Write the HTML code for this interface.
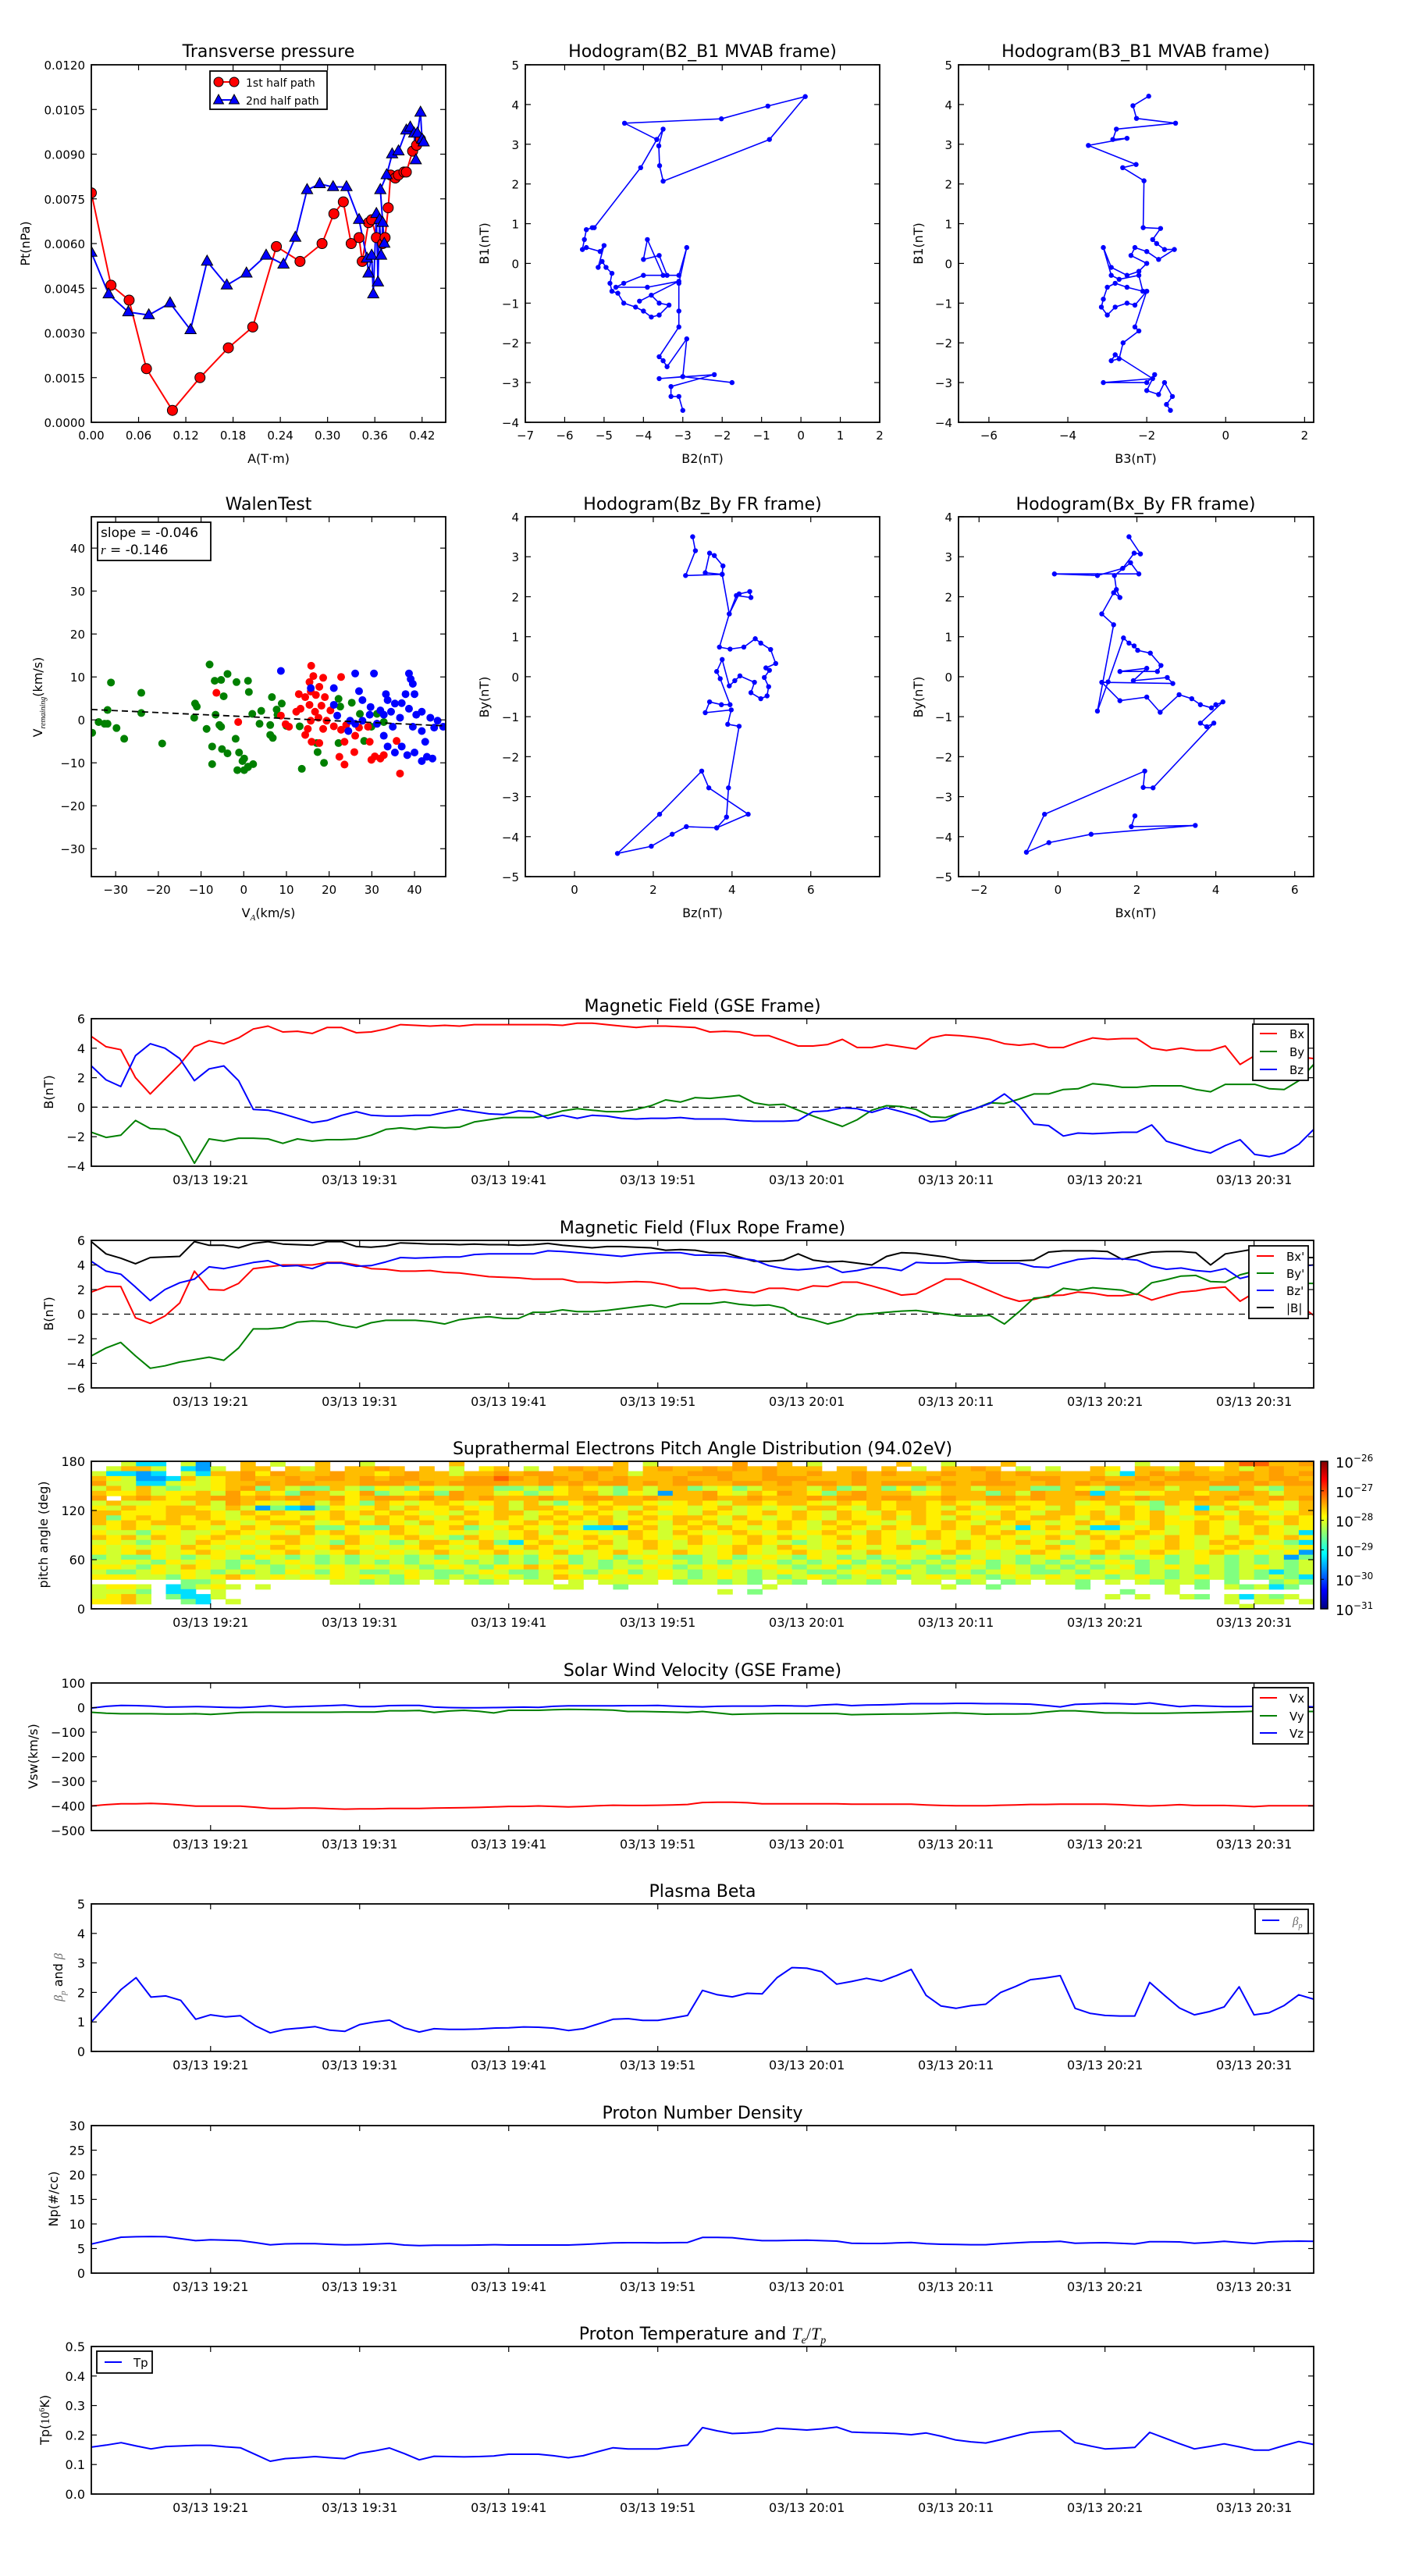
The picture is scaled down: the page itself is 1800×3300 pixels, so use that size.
<!DOCTYPE html>
<html><head><meta charset="utf-8"><title>Flux rope analysis</title>
<style>
html,body{margin:0;padding:0;background:#fff;}
svg{display:block;font-family:"DejaVu Sans","Liberation Sans",sans-serif;}
</style></head>
<body>
<svg id="fig" xmlns="http://www.w3.org/2000/svg" width="1800" height="3300" viewBox="0 0 1800 3300">
<defs id="defs"></defs>
<rect x="0" y="0" width="1800" height="3300" fill="#fff"/>
<g id="layer"></g>
<g font-size="16" fill="#000">
  <text x="344" y="73" font-size="22" text-anchor="middle">Transverse pressure</text>
  <text x="900" y="73" font-size="22" text-anchor="middle">Hodogram(B2_B1 MVAB frame)</text>
  <text x="1455" y="73" font-size="22" text-anchor="middle">Hodogram(B3_B1 MVAB frame)</text>
  <text x="344" y="653" font-size="22" text-anchor="middle">WalenTest</text>
  <text x="900" y="653" font-size="22" text-anchor="middle">Hodogram(Bz_By FR frame)</text>
  <text x="1455" y="653" font-size="22" text-anchor="middle">Hodogram(Bx_By FR frame)</text>

  <text x="344" y="593" text-anchor="middle">A(T·m)</text>
  <text x="900" y="593" text-anchor="middle">B2(nT)</text>
  <text x="1455" y="593" text-anchor="middle">B3(nT)</text>
  <text x="344" y="1175" text-anchor="middle">V<tspan font-size="11" dy="4" font-style="italic" font-family="Liberation Serif, serif">A</tspan><tspan dy="-4">(km/s)</tspan></text>
  <text x="900" y="1175" text-anchor="middle">Bz(nT)</text>
  <text x="1455" y="1175" text-anchor="middle">Bx(nT)</text>

  <text x="38" y="312" text-anchor="middle" transform="rotate(-90 38 312)">Pt(nPa)</text>
  <text x="626" y="312" text-anchor="middle" transform="rotate(-90 626 312)">B1(nT)</text>
  <text x="1182" y="312" text-anchor="middle" transform="rotate(-90 1182 312)">B1(nT)</text>
  <text x="54" y="893" text-anchor="middle" transform="rotate(-90 54 893)">V<tspan font-size="10" dy="4" font-style="italic" font-family="Liberation Serif, serif">remaining</tspan><tspan dy="-4">(km/s)</tspan></text>
  <text x="626" y="893" text-anchor="middle" transform="rotate(-90 626 893)">By(nT)</text>
  <text x="1182" y="893" text-anchor="middle" transform="rotate(-90 1182 893)">By(nT)</text>

  <text x="900" y="1296" font-size="22" text-anchor="middle">Magnetic Field (GSE Frame)</text>
  <text x="900" y="1580" font-size="22" text-anchor="middle">Magnetic Field (Flux Rope Frame)</text>
  <text x="900" y="1863" font-size="22" text-anchor="middle">Suprathermal Electrons Pitch Angle Distribution (94.02eV)</text>
  <text x="900" y="2147" font-size="22" text-anchor="middle">Solar Wind Velocity (GSE Frame)</text>
  <text x="900" y="2430" font-size="22" text-anchor="middle">Plasma Beta</text>
  <text x="900" y="2714" font-size="22" text-anchor="middle">Proton Number Density</text>
  <text x="900" y="2997" font-size="22" text-anchor="middle">Proton Temperature and <tspan font-family="Liberation Serif, serif" font-style="italic">T</tspan><tspan font-family="Liberation Serif, serif" font-style="italic" font-size="14" dy="5">e</tspan><tspan font-family="Liberation Serif, serif" dy="-5">/</tspan><tspan font-family="Liberation Serif, serif" font-style="italic">T</tspan><tspan font-family="Liberation Serif, serif" font-style="italic" font-size="14" dy="5">p</tspan></text>

  <text x="68" y="1399" text-anchor="middle" transform="rotate(-90 68 1399)">B(nT)</text>
  <text x="68" y="1683" text-anchor="middle" transform="rotate(-90 68 1683)">B(nT)</text>
  <text x="61" y="1966" text-anchor="middle" transform="rotate(-90 61 1966)">pitch angle (deg)</text>
  <text x="48" y="2250" text-anchor="middle" transform="rotate(-90 48 2250)">Vsw(km/s)</text>
  <text x="80" y="2533" text-anchor="middle" transform="rotate(-90 80 2533)" fill="#666"><tspan font-family="Liberation Serif, serif" font-style="italic">β</tspan><tspan font-family="Liberation Serif, serif" font-style="italic" font-size="11" dy="4">p</tspan><tspan dy="-4" fill="#000"> and </tspan><tspan font-family="Liberation Serif, serif" font-style="italic">β</tspan></text>
  <text x="74" y="2817" text-anchor="middle" transform="rotate(-90 74 2817)">Np(#/cc)</text>
  <text x="63" y="3100" text-anchor="middle" transform="rotate(-90 63 3100)">Tp(<tspan font-family="Liberation Serif, serif">10</tspan><tspan font-size="10" dy="-6" font-family="Liberation Serif, serif">6</tspan><tspan dy="6">K)</tspan></text>
</g>
<g id="overlay"></g>
</svg>
<script>
// ===== Transverse pressure data =====
const tpRedA=[0.0,0.025,0.048,0.07,0.103,0.138,0.174,0.205,0.235,0.265,0.293,0.308,0.32,0.33,0.34,0.344,0.352,0.356,0.362,0.37,0.373,0.377,0.38,0.386,0.39,0.397,0.4,0.408,0.413,0.418];
const tpRedP=[0.0077,0.0046,0.0041,0.0018,0.0004,0.0015,0.0025,0.0032,0.0059,0.0054,0.0060,0.0070,0.0074,0.0060,0.0062,0.0054,0.0067,0.0068,0.0062,0.0060,0.0062,0.0072,0.0083,0.0082,0.0083,0.0084,0.0084,0.0091,0.0093,0.0095];
const tpBlueA=[0,0.022,0.047,0.073,0.1,0.126,0.147,0.172,0.197,0.222,0.244,0.259,0.274,0.29,0.307,0.324,0.34,0.35,0.352,0.356,0.358,0.362,0.364,0.366,0.368,0.37,0.372,0.367,0.375,0.382,0.39,0.4,0.405,0.41,0.412,0.414,0.418,0.42,0.422];
const tpBlueP=[0.0057,0.0043,0.0037,0.0036,0.0040,0.0031,0.0054,0.0046,0.0050,0.0056,0.0053,0.0062,0.0078,0.0080,0.0079,0.0079,0.0068,0.0055,0.0050,0.0056,0.0043,0.0070,0.0047,0.0068,0.0056,0.0067,0.0060,0.0078,0.0083,0.0090,0.0091,0.0098,0.0099,0.0097,0.0088,0.0097,0.0104,0.0095,0.0094];
const tpXTicks=[0,0.06,0.12,0.18,0.24,0.30,0.36,0.42];
const tpXLabels=['0.00','0.06','0.12','0.18','0.24','0.30','0.36','0.42'];
const tpYTicks=[0,0.0015,0.003,0.0045,0.006,0.0075,0.009,0.0105,0.012];
const tpYLabels=['0.0000','0.0015','0.0030','0.0045','0.0060','0.0075','0.0090','0.0105','0.0120'];
// ===== Hodograms =====
const h1B2=[-3.0,-3.1,-3.3,-3.3,-2.2,-3.6,-3.0,-1.75,-3.0,-2.9,-3.4,-3.5,-3.6,-3.1,-3.1,-3.1,-2.9,-3.1,-3.4,-3.6,-4.0,-3.9,-3.5,-4.0,-4.5,-4.7,-3.9,-3.1,-4.1,-3.8,-3.6,-3.35,-3.6,-3.8,-4.0,-4.2,-4.5,-4.65,-4.8,-4.85,-4.8,-4.95,-5.05,-5.15,-5.0,-5.1,-5.45,-5.55,-5.5,-5.45,-5.3,-5.25,-4.07,-3.66,-3.5,-3.61,-3.59,-3.5,-0.8,0.11,-0.84,-2.02,-4.48,-3.66];
const h1B1=[-3.7,-3.35,-3.35,-3.1,-2.8,-2.9,-2.85,-3.0,-2.85,-1.9,-2.6,-2.45,-2.35,-1.6,-1.2,-0.5,0.4,-0.3,-0.3,0.2,0.1,0.6,-0.3,-0.3,-0.5,-0.6,-0.6,-0.45,-0.95,-0.8,-1.0,-1.05,-1.3,-1.35,-1.2,-1.1,-1.0,-0.75,-0.7,-0.5,-0.25,-0.1,0.05,-0.1,0.45,0.3,0.4,0.35,0.6,0.85,0.9,0.9,2.41,3.12,3.38,2.96,2.46,2.07,3.12,4.2,3.96,3.64,3.53,3.12];
const h2B3=[-1.95,-2.35,-2.26,-1.27,-2.77,-2.86,-2.5,-3.48,-2.27,-2.61,-2.07,-2.09,-1.65,-1.85,-1.75,-1.55,-1.3,-1.7,-2.0,-2.3,-2.4,-2.0,-2.2,-2.5,-2.9,-3.1,-2.9,-2.7,-2.2,-2.1,-2.5,-2.8,-3.0,-3.1,-3.15,-3.0,-2.8,-2.5,-2.3,-2.0,-2.3,-2.2,-2.6,-2.7,-2.9,-2.8,-1.85,-3.1,-2.0,-1.8,-2.0,-1.7,-1.55,-1.35,-1.5,-1.4];
const h2B1=[4.21,3.97,3.65,3.53,3.38,3.12,3.15,2.97,2.49,2.41,2.08,0.9,0.88,0.6,0.5,0.35,0.35,0.1,0.3,0.4,0.2,0.0,-0.2,-0.3,-0.1,0.4,-0.3,-0.4,-0.3,-0.7,-0.6,-0.5,-0.6,-0.9,-1.1,-1.3,-1.1,-1.0,-1.05,-0.7,-1.6,-1.7,-2.0,-2.4,-2.45,-2.3,-2.9,-3.0,-3.0,-2.8,-3.2,-3.3,-3.0,-3.35,-3.55,-3.7];
const h3Bz=[3.0,3.07,2.82,3.75,3.32,3.43,3.55,3.77,3.75,3.93,4.18,4.45,4.48,4.11,3.93,3.68,3.95,4.3,4.59,4.73,4.98,5.11,4.86,4.95,4.82,4.93,4.89,4.73,4.48,4.57,4.2,4.07,3.93,3.75,3.61,3.7,3.95,3.73,3.43,3.32,3.98,3.89,4.18,3.91,3.86,3.61,4.41,3.41,3.23,2.16,1.09,1.95,2.48,2.84,3.61];
const h3By=[3.5,3.15,2.53,2.56,2.6,3.09,3.03,2.77,2.56,1.57,2.07,2.13,1.98,2.03,1.57,0.74,0.69,0.74,0.95,0.84,0.68,0.33,0.22,0.16,-0.02,-0.25,-0.48,-0.55,-0.4,-0.14,0.02,-0.1,-0.23,0.43,0.13,-0.05,-0.7,-0.7,-0.63,-0.9,-0.83,-1.19,-1.24,-2.78,-3.51,-3.78,-3.44,-2.78,-2.36,-3.44,-4.42,-4.24,-3.94,-3.75,-3.78];
const h4Bx=[1.8,2.09,1.93,1.64,1.0,-0.09,2.05,1.84,1.43,1.48,1.57,1.41,1.11,1.41,1.0,1.27,1.66,1.8,1.93,2.02,2.34,2.61,2.52,1.57,2.25,1.91,2.77,2.91,1.11,1.57,2.25,2.59,3.07,3.39,3.61,3.89,4.0,4.18,3.61,3.77,3.95,2.41,2.16,2.2,-0.34,-0.8,-0.23,0.84,3.48,1.86,1.95];
const h4By=[3.5,3.07,3.09,2.71,2.53,2.57,2.57,2.85,2.53,2.18,1.98,2.1,1.57,1.3,-0.86,-0.13,0.97,0.84,0.77,0.66,0.59,0.28,0.13,0.13,0.21,-0.1,-0.02,-0.17,-0.14,-0.6,-0.51,-0.89,-0.45,-0.55,-0.7,-0.78,-0.7,-0.63,-1.16,-1.25,-1.16,-2.78,-2.77,-2.36,-3.44,-4.39,-4.15,-3.94,-3.72,-3.75,-3.48];
// ===== Walen test =====
const walenGreenX=[-31.1,-24.0,-31.9,-24.0,-34.0,-32.6,-31.9,-29.8,-28.0,-35.5,-19.1,-8.0,-3.8,-5.3,-6.8,-1.7,1.0,1.2,-4.7,-11.0,-11.4,-6.6,-11.6,-8.7,-5.3,-5.7,-1.9,-7.4,-5.1,-3.8,-7.4,-1.1,-0.3,2.2,0.1,1.0,-1.5,0.1,1.0,6.6,8.9,7.7,2.0,4.1,3.7,6.2,6.2,6.8,7.9,10.0,13.1,13.6,17.1,17.3,18.8,22.2,22.6,22.2,25.3,27.2,29.9,28.2,31.2,32.8];
const walenGreenY=[8.7,6.3,2.3,1.6,-0.5,-0.9,-0.9,-1.9,-4.4,-3.0,-5.5,12.9,10.7,9.3,9.1,8.8,9.1,6.5,5.5,3.1,3.8,1.2,0.5,-2.1,-1.6,-1.2,-4.4,-6.2,-6.8,-7.8,-10.3,-7.6,-9.6,-10.3,-9.0,-11.0,-11.7,-11.7,-10.9,5.3,3.8,2.4,1.4,2.1,-0.9,-1.2,-3.5,-4.2,1.2,-1.4,-1.5,-11.4,-5.4,-7.5,-10.0,4.9,3.1,-5.4,4.0,1.4,-1.6,-4.9,1.4,-0.5];
const walenRedX=[-6.4,-1.3,8.7,9.8,12.9,15.4,15.8,16.3,17.7,15.7,16.9,14.4,13.3,15.4,16.7,18.2,19.0,17.5,15.7,15.0,14.4,15.9,17.7,18.6,19.4,20.3,22.8,21.1,22.8,23.6,22.4,23.6,24.0,26.1,25.9,27.0,29.1,29.5,29.9,30.7,32.0,32.8,35.8,36.6,31.2,18.6,12.3,10.6];
const walenRedY=[6.3,-0.5,1.0,-1.0,6.0,8.8,12.6,10.2,7.7,6.6,5.8,5.3,2.6,3.5,1.9,3.3,5.3,0.5,-0.2,-2.1,-3.5,-5.1,-5.4,-2.1,-0.2,2.2,10.0,-1.5,-2.3,-5.1,-8.6,-10.4,-1.2,-3.7,-7.5,-1.8,-1.6,-5.1,-9.3,-8.5,-9.0,-8.2,-4.9,-12.5,-0.9,9.8,1.9,-1.6];
const walenBlueX=[8.7,15.7,21.1,26.1,30.5,27.0,27.8,29.7,33.3,33.7,35.4,38.7,39.1,39.6,40.0,37.9,37.0,38.7,40.4,41.7,43.7,45.4,46.7,29.5,31.2,27.8,26.1,24.5,24.9,21.1,21.9,32.8,33.7,35.4,37.0,38.3,40.0,41.7,42.9,44.2,36.6,34.9,34.5,32.8,32.0,39.6,41.7,42.5,44.6];
const walenBlueY=[11.4,7.4,7.4,10.8,10.8,6.7,4.6,3.0,6.0,4.6,3.8,10.8,9.5,8.4,6.0,6.0,3.9,2.6,1.2,1.9,0.5,-0.2,-1.6,1.2,-0.9,-0.2,-0.9,-2.6,-0.2,3.5,1.0,-3.7,-6.2,-7.6,-6.2,-8.2,-7.6,-9.6,-8.6,-9.0,0.5,-1.6,1.9,1.2,2.2,-1.6,-2.6,-5.1,-1.8];
const walenSlope=-0.046, walenIntercept=0.77;
const walenTicks=[-30,-20,-10,0,10,20,30,40];
const walenYTicks=[-30,-20,-10,0,10,20,30,40];
// ===== Time series (minutes since 19:13) =====
const timeTicks=[8,18,28,38,48,58,68,78];
const timeLabels=['03/13 19:21','03/13 19:31','03/13 19:41','03/13 19:51','03/13 20:01','03/13 20:11','03/13 20:21','03/13 20:31'];
const gseBx=[4.8,4.1,3.9,2.0,0.9,1.9,2.9,4.1,4.5,4.3,4.7,5.3,5.5,5.1,5.15,5.0,5.4,5.4,5.05,5.1,5.3,5.6,5.55,5.5,5.55,5.5,5.6,5.6,5.6,5.6,5.6,5.6,5.55,5.7,5.7,5.6,5.5,5.4,5.5,5.5,5.45,5.4,5.1,5.15,5.1,4.85,4.85,4.5,4.15,4.15,4.25,4.6,4.05,4.05,4.25,4.1,3.95,4.7,4.9,4.85,4.75,4.6,4.3,4.2,4.3,4.05,4.05,4.4,4.7,4.6,4.65,4.65,4.0,3.85,4.0,3.85,3.85,4.15,2.9,3.5,3.9,3.6,3.4,3.3];
const gseBy=[-1.7,-2.05,-1.9,-0.9,-1.45,-1.5,-2.0,-3.8,-2.15,-2.3,-2.1,-2.1,-2.15,-2.45,-2.15,-2.3,-2.2,-2.2,-2.15,-1.9,-1.5,-1.4,-1.5,-1.35,-1.4,-1.35,-1.0,-0.85,-0.7,-0.7,-0.7,-0.55,-0.25,-0.1,-0.2,-0.3,-0.3,-0.15,0.1,0.5,0.35,0.65,0.6,0.7,0.8,0.3,0.15,0.2,-0.2,-0.6,-0.95,-1.3,-0.85,-0.2,0.1,0.05,-0.15,-0.65,-0.7,-0.4,-0.1,0.3,0.25,0.55,0.9,0.9,1.2,1.25,1.6,1.5,1.35,1.35,1.45,1.45,1.45,1.2,1.05,1.55,1.55,1.55,1.25,1.2,1.8,2.9];
const gseBz=[2.8,1.85,1.4,3.5,4.3,4.0,3.3,1.8,2.6,2.8,1.8,-0.15,-0.2,-0.45,-0.75,-1.05,-0.9,-0.55,-0.3,-0.55,-0.6,-0.6,-0.55,-0.55,-0.35,-0.15,-0.3,-0.45,-0.5,-0.25,-0.3,-0.75,-0.55,-0.75,-0.55,-0.6,-0.75,-0.8,-0.75,-0.75,-0.7,-0.8,-0.8,-0.8,-0.9,-0.95,-0.95,-0.95,-0.9,-0.3,-0.25,-0.05,-0.1,-0.35,-0.05,-0.3,-0.6,-1.0,-0.9,-0.4,-0.1,0.25,0.9,0.1,-1.15,-1.25,-1.95,-1.75,-1.8,-1.75,-1.7,-1.7,-1.2,-2.3,-2.6,-2.9,-3.1,-2.6,-2.2,-3.2,-3.35,-3.1,-2.5,-1.5];
const frBx=[1.8,2.25,2.25,-0.3,-0.75,-0.15,0.9,3.5,2.0,1.95,2.5,3.7,3.85,4.0,4.0,4.0,4.2,4.2,4.0,3.7,3.65,3.5,3.5,3.55,3.4,3.35,3.2,3.05,3.0,2.95,2.85,2.85,2.85,2.6,2.6,2.55,2.6,2.65,2.6,2.4,2.1,2.1,1.9,2.0,1.85,1.75,2.1,2.1,1.95,2.3,2.25,2.6,2.6,2.3,1.95,1.55,1.65,2.25,2.85,2.85,2.4,1.9,1.4,1.05,1.2,1.5,1.55,1.8,1.7,1.5,1.5,1.65,1.15,1.5,1.8,1.9,2.1,2.2,1.05,1.75,1.6,1.4,0.8,-0.1];
const frBy=[-3.4,-2.75,-2.3,-3.4,-4.4,-4.2,-3.9,-3.7,-3.5,-3.75,-2.75,-1.2,-1.2,-1.1,-0.65,-0.55,-0.6,-0.9,-1.1,-0.7,-0.5,-0.5,-0.5,-0.6,-0.8,-0.45,-0.3,-0.2,-0.35,-0.35,0.15,0.15,0.35,0.2,0.2,0.3,0.45,0.6,0.75,0.55,0.85,0.85,0.85,1.0,0.8,0.7,0.75,0.5,-0.2,-0.45,-0.8,-0.5,-0.05,0.05,0.15,0.25,0.3,0.15,0.0,-0.15,-0.15,-0.1,-0.8,0.2,1.3,1.4,2.1,1.95,2.15,2.05,1.95,1.6,2.55,2.8,3.1,3.15,2.65,2.6,3.2,3.5,3.2,3.0,2.5,2.5];
const frBz=[4.3,3.5,3.25,2.2,1.1,2.0,2.55,2.85,3.85,3.7,3.95,4.2,4.35,3.9,3.95,3.7,4.15,4.15,3.9,3.95,4.25,4.6,4.55,4.6,4.65,4.65,4.85,4.9,4.9,4.9,4.9,5.15,5.1,5.0,4.9,4.8,4.7,4.85,4.95,5.0,5.0,4.8,4.8,4.75,4.55,4.4,3.95,3.7,3.6,3.7,3.9,3.4,3.55,3.8,3.75,3.55,4.2,4.15,4.15,4.2,4.25,4.15,4.15,4.15,3.85,3.8,4.15,4.45,4.55,4.5,4.5,4.4,3.9,3.65,3.75,3.55,3.45,3.7,2.9,3.2,3.5,3.7,3.9,4.0];
const frBt=[5.9,4.9,4.55,4.1,4.6,4.65,4.7,5.9,5.6,5.6,5.4,5.75,5.9,5.7,5.65,5.6,5.9,5.9,5.5,5.45,5.55,5.8,5.75,5.7,5.7,5.65,5.7,5.65,5.65,5.6,5.65,5.75,5.6,5.5,5.4,5.5,5.5,5.45,5.4,5.2,5.25,5.2,5.0,5.0,4.65,4.3,4.3,4.4,4.9,4.4,4.25,4.3,4.15,4.0,4.7,5.0,4.95,4.8,4.65,4.4,4.35,4.35,4.35,4.35,4.4,5.05,5.15,5.15,5.15,5.1,4.45,4.8,5.05,5.1,5.1,5.0,4.0,4.9,5.1,5.3,5.3,5.1,4.6,4.6];
const vx=[-400,-395,-391,-391,-390,-392,-396,-401,-401,-401,-401,-405,-410,-410,-409,-409,-411,-413,-412,-412,-410,-410,-410,-409,-408,-407,-406,-404,-402,-402,-400,-402,-404,-402,-399,-397,-398,-398,-397,-396,-394,-386,-385,-385,-387,-391,-391,-391,-391,-391,-391,-393,-393,-393,-393,-393,-396,-398,-399,-399,-399,-397,-396,-394,-394,-393,-393,-393,-393,-395,-398,-400,-398,-395,-398,-398,-398,-400,-403,-399,-399,-399,-399];
const vy=[-19,-23,-25,-25,-25,-26,-26,-25,-28,-24,-20,-19,-19,-19,-19,-19,-19,-18,-18,-18,-13,-13,-12,-20,-14,-11,-15,-22,-11,-11,-11,-9,-7,-8,-9,-10,-16,-16,-17,-18,-20,-16,-22,-28,-26,-25,-24,-24,-24,-24,-24,-29,-28,-27,-26,-26,-25,-23,-22,-24,-27,-26,-26,-25,-18,-13,-13,-17,-22,-22,-23,-23,-23,-22,-21,-20,-18,-17,-15,-15,-16,-16,-16];
const vz=[-2,5,9,8,6,2,3,4,3,1,0,3,7,2,4,6,8,10,4,4,8,9,9,2,0,-1,-1,0,1,2,1,5,7,7,7,7,8,8,9,6,4,3,5,6,6,6,8,7,6,10,13,8,10,11,13,16,16,16,17,17,16,16,15,14,9,3,13,15,17,16,14,19,11,4,8,6,4,4,5,5,5,5,3];
const betaP=[1.0,1.55,2.1,2.5,1.84,1.88,1.73,1.09,1.24,1.17,1.21,0.87,0.63,0.75,0.79,0.84,0.72,0.68,0.91,1.0,1.06,0.8,0.66,0.77,0.75,0.75,0.76,0.79,0.8,0.83,0.82,0.79,0.71,0.77,0.93,1.09,1.11,1.05,1.05,1.13,1.22,2.07,1.92,1.85,1.97,1.95,2.5,2.84,2.82,2.7,2.28,2.37,2.48,2.38,2.57,2.78,1.9,1.54,1.46,1.55,1.6,2.0,2.2,2.43,2.49,2.57,1.46,1.29,1.22,1.2,1.2,2.34,1.9,1.47,1.24,1.35,1.51,2.19,1.24,1.31,1.55,1.92,1.77];
const np=[5.9,6.6,7.3,7.4,7.45,7.4,7.0,6.6,6.8,6.7,6.6,6.2,5.75,5.95,6.0,6.0,5.85,5.75,5.8,5.9,6.03,5.71,5.61,5.66,5.66,5.66,5.71,5.77,5.71,5.71,5.71,5.71,5.71,5.82,5.98,6.14,6.19,6.19,6.14,6.19,6.24,7.25,7.25,7.2,6.88,6.61,6.61,6.67,6.72,6.61,6.51,6.08,6.03,6.03,6.14,6.24,5.98,5.87,5.82,5.77,5.77,5.98,6.14,6.3,6.35,6.46,6.08,6.14,6.19,6.08,5.93,6.4,6.4,6.35,6.08,6.24,6.46,6.24,6.03,6.35,6.46,6.51,6.46];
const tp=[0.159,0.166,0.174,0.163,0.153,0.161,0.163,0.165,0.165,0.16,0.157,0.134,0.111,0.12,0.123,0.127,0.123,0.12,0.138,0.146,0.156,0.137,0.116,0.128,0.127,0.126,0.127,0.129,0.135,0.135,0.135,0.13,0.123,0.13,0.144,0.157,0.153,0.153,0.153,0.16,0.166,0.225,0.214,0.205,0.207,0.211,0.223,0.22,0.217,0.221,0.227,0.21,0.208,0.207,0.205,0.201,0.207,0.196,0.183,0.177,0.173,0.184,0.197,0.209,0.212,0.214,0.174,0.163,0.153,0.155,0.158,0.209,0.19,0.171,0.153,0.161,0.17,0.16,0.149,0.149,0.164,0.178,0.168];
// Pitch angle distribution: rows from 180deg (top) to 0deg; one char per minute; '.' = no data
const padCodes={r:-27.1,o:-27.4,a:-27.55,y:-27.8,l:-28.1,g:-28.5,c:-29.28,b:-29.6};
const padRows=[
"..lcc.lb..a.l..a..l.....a..........a.l.....o..a.l.....a..l...a........l..a..arraaoao",
".laal.cbl.aa.ala.aaoa.a.l.ya.l.aoaoa.aoaaoaoaoaaa.aa.a.l.aaoa.l.l..ay.aalaayalaoaary",
"lccbc.lcaaoyoaaaoaayaoaalaaoaooaaoaalaaaoooaaoaaoaaoaoaaaoaaoaoaaaaalcaoaoaaaoaoaoao",
"aylbbcalyaoaaoaooaoaooaaaooroaooaoaoaaaoaaoaaoooaaaoaaaaoaaaoaaooaaoaaoaoooaooaooaoa",
"ollcclylyaaoaooaaaoooaoaooooaaoaoaooaoaooaaooaoaooaoaoooaoaoooaaoaoaooaoaaaooaoaooaa",
"lalalgllyaogalggalgylgyllaagglgyaylgalaaglyglaaalaglagyglaalaaaggaylgaaalaaggalgaagl",
"ayyalyyaloyaygoalyoglyagoaalyglyaalgylbaaoylayoaygaoaaalyaaagaloaaocaylyaayaaoalaaaa",
"o.aoayaaooaoaoaaoyaooaoaoaoaaaoaaooaaoaaaoaaoaaaoaooaooaaoaaooaoaaaoaaoaaaoaoaaoaoaa",
"lallyylaloaylyalaygaylyaylyalalgyayaaylyaylaayaaylayayaayaylaayyaalyaylgayaaylaylagl",
"ylayyaaylalbgcbgylyalayyaylalaaylyaylayylyalylylaaylayaaylaylyaylayylayglyclaylylayl",
"aayyyaaaylayaylyayayaylylayaalyayaylaylylaylyayaylaylayayaylyaylaayalayalyaylaylyayl",
"agyayayaylyayyayaylayaylayyaylayayalyayaaylaylyaylayyalaylaylayaaylayayaylyayaayayly",
"ayayaayyaylyaaylyayaylayyaylyayaylayaylayalyayaylayaylyayaylayaylyayaylayyaylaylayla",
"lyaylyaylyaylyaggyggaylyaglyaylylccbyalyayaylyaylyaylaylyayaylcyaylcclyalyaylyaylyay",
"yllgyyllyaylylayaylyaylyylylyalayylyaylaylyaylylyaylaylyaylayaylylaylyaylyaylyaylcyl",
"ayalaylyaylyaaylyaylyaylgaylyaylyaylaylyaylyayaylyayaylyaylyaylyaylayaylaylyaylyaylg",
"lylglylaylylyaylgaylglaaylagcyaylyalyaylaylyaylglylyaylglyaylyaylglyaylyaylayaylgcga",
"ylylylaylylyaylyaylylyaylyaylaylyaylyaylylyaylaylyaylyaylyaylylyaylyaylyaylyaylylyal",
"ylyaylyaylylyaylyaylylyaylyaylyaylyaylyaylyaylyaylylayylyaylylyaylyaylyaylyaylylybyl",
"glggylglylgylglglglylglglylglgylglyglylgglyglylgylglglylglglylglyglglglyglylglglbglg",
"llylgylylglglylglglglglylglglglyglglglylglglylglglyglglglglyglglglglylglglylglglglcg",
"yylgylaylgylglylylylylglylgyyayaylgllylglylylylglyglylglglylgylglglglyglylglglylglcg",
"lgglylylglglgylgylgglylgglylgglylglyglylglylglylgglylgylgglglylgglglylglglglglgcglgl",
"yyyllgylyaylylylylylgylglglylglaylylylylglylglglylglylglylylglylylylglylglylglglgcbg",
"......ggl.......llglgl.l.lgl.ll.l.llll.gllglg.lg.gllgl.ll.gl.gl.llg.l.lgllg.g..glggl",
"lyyl.cglyl.l...................ll..g.........l...........l..g.....g.....l.g.lglcg.l.",
"lllg.cc.l.................................l.g........................g..l.........l.",
"lyal.gccl...........................................................l.l..lg.lclgl.lc",
"yyal..gc.l..................................................................l.ll.ll.",
".............................................................................l......"
];
const cbLabels=['-26','-27','-28','-29','-30','-31'];

// ===== drawing helpers =====
const NS='http://www.w3.org/2000/svg';
const layer=document.getElementById('layer');
const overlay=document.getElementById('overlay');
const defs=document.getElementById('defs');
function mk(tag, attrs, parent){
  const e=document.createElementNS(NS,tag);
  for(const k in attrs) e.setAttribute(k,attrs[k]);
  (parent||layer).appendChild(e);
  return e;
}
function axes(name,x,y,w,h,xlim,ylim){
  const sx=v=>x+(v-xlim[0])/(xlim[1]-xlim[0])*w;
  const sy=v=>y+h-(v-ylim[0])/(ylim[1]-ylim[0])*h;
  const g=mk('g',{});
  
  
  const cp=mk('clipPath',{id:'clip-'+name},defs);
  mk('rect',{x:x,y:y,width:w,height:h},cp);
  const plot=mk('g',{'clip-path':'url(#clip-'+name+')'},g);
  
  
  return {x,y,w,h,sx,sy,g,plot,name};
}
function frame(ax,xt,xl,yt,yl,opt){
  opt=opt||{};
  const tl=7, fs=opt.fs||16;
  const tg=mk('g',{stroke:'#000','stroke-width':1.2},ax.g);
  
  
  xt.forEach((v,i)=>{
    const px=ax.sx(v);
    mk('line',{x1:px,x2:px,y1:ax.y+ax.h,y2:ax.y+ax.h-tl},tg);
    mk('line',{x1:px,x2:px,y1:ax.y,y2:ax.y+tl},tg);
    const t=mk('text',{x:px,y:ax.y+ax.h+(opt.xoff||23),'text-anchor':'middle','font-size':fs,stroke:'none',fill:'#000'},ax.g);
    t.textContent=xl[i];
    
    
  });
  yt.forEach((v,i)=>{
    const py=ax.sy(v);
    mk('line',{x1:ax.x,x2:ax.x+tl,y1:py,y2:py},tg);
    mk('line',{x1:ax.x+ax.w,x2:ax.x+ax.w-tl,y1:py,y2:py},tg);
    const t=mk('text',{x:ax.x-8,y:py+6,'text-anchor':'end','font-size':fs,fill:'#000'},ax.g);
    t.textContent=yl[i];
    
    
  });
  const r=mk('rect',{x:ax.x,y:ax.y,width:ax.w,height:ax.h,fill:'none',stroke:'#000','stroke-width':1.8},ax.g);
  
  
}
function fmt(v){ return (v<0?'\u2212':'')+Math.abs(v); }
function polyline(ax,xs,ys,color,name,extra){
  const pts=xs.map((x,i)=>ax.sx(x).toFixed(1)+','+ax.sy(ys[i]).toFixed(1)).join(' ');
  const a={points:pts,fill:'none',stroke:color,'stroke-width':2,'stroke-linejoin':'round'};
  for(const k in (extra||{})) a[k]=extra[k];
  const p=mk('polyline',a,ax.plot);
  
  
  return p;
}
function dots(ax,xs,ys,color,r,name,stroke){
  const g=mk('g',{fill:color},ax.plot);
  
  
  xs.forEach((x,i)=>{
    const c=mk('circle',{cx:ax.sx(x),cy:ax.sy(ys[i]),r:r},g);
    if(stroke){c.setAttribute('stroke',stroke);c.setAttribute('stroke-width',1);}
  });
}
function tris(ax,xs,ys,color,s,name){
  const g=mk('g',{fill:color,stroke:'#000','stroke-width':1},ax.plot);
  
  
  xs.forEach((x,i)=>{
    const cx=ax.sx(x), cy=ax.sy(ys[i]);
    mk('polygon',{points:`${cx},${cy-s} ${cx-s*0.9},${cy+s*0.6} ${cx+s*0.9},${cy+s*0.6}`},g);
  });
}
function times(n){ const a=[]; for(let i=0;i<n;i++) a.push(i*82/(n-1)); return a; }
function jet(t){
  const c=v=>Math.round(255*Math.max(0,Math.min(1,v)));
  return `rgb(${c(1.5-Math.abs(4*t-3))},${c(1.5-Math.abs(4*t-2))},${c(1.5-Math.abs(4*t-1))})`;
}
function legend(name,x,y,w,h,entries,opts){
  opts=opts||{};
  const g=mk('g',{},overlay);
  
  
  const r=mk('rect',{x:x,y:y,width:w,height:h,fill:'#fff',stroke:'#000','stroke-width':1.8},g);
  
  
  entries.forEach(e=>{
    const l=mk('line',{x1:e.lx1,x2:e.lx2,y1:e.y,y2:e.y,stroke:e.color,'stroke-width':2},g);
    
    
    const t=mk('text',{x:e.tx,y:e.y+6,'font-size':opts.fs||16},g);
    if(e.html) t.innerHTML=e.html; else t.textContent=e.label;
    
    
  });
  return g;
}

// ===== Top row =====
const axTP=axes('transverse-pressure-axes',117,83,454,458,[0,0.45],[0,0.012]);
polyline(axTP,tpRedA,tpRedP,'#ff0000','pressure-first-half-line');
polyline(axTP,tpBlueA,tpBlueP,'#0000ff','pressure-second-half-line');
dots(axTP,tpRedA,tpRedP,'#ff0000',6.5,'pressure-first-half-markers','#000');
tris(axTP,tpBlueA,tpBlueP,'#0000ff',8,'pressure-second-half-markers');
frame(axTP,tpXTicks,tpXLabels,tpYTicks,tpYLabels,{fs:15,xoff:22});
const tleg=legend('pressure-legend',269,91,150,49,[
  {lx1:280,lx2:300,y:105,color:'#ff0000',tx:315,label:'1st half path'},
  {lx1:280,lx2:300,y:128,color:'#0000ff',tx:315,label:'2nd half path'}],{fs:14});
[[280,105],[300,105]].forEach(p=>{const c=mk('circle',{cx:p[0],cy:p[1],r:6,fill:'#ff0000',stroke:'#000'},tleg);});
[[280,128],[300,128]].forEach(p=>{const c=mk('polygon',{points:`${p[0]},${p[1]-7} ${p[0]-6.5},${p[1]+5} ${p[0]+6.5},${p[1]+5}`,fill:'#0000ff',stroke:'#000'},tleg);});

const hodoY=[-4,-3,-2,-1,0,1,2,3,4,5];
const axH1=axes('hodogram-b2-b1-axes',673,83,454,458,[-7,2],[-4,5]);
polyline(axH1,h1B2,h1B1,'#0000ff','hodogram-b2-b1-line',{'stroke-width':1.6});
dots(axH1,h1B2,h1B1,'#0000ff',3.2,'hodogram-b2-b1-points');
frame(axH1,[-7,-6,-5,-4,-3,-2,-1,0,1,2],[-7,-6,-5,-4,-3,-2,-1,0,1,2].map(fmt),hodoY,hodoY.map(fmt),{fs:15,xoff:22});
const axH2=axes('hodogram-b3-b1-axes',1228,83,455,458,[-6.77,2.23],[-4,5]);
polyline(axH2,h2B3,h2B1,'#0000ff','hodogram-b3-b1-line',{'stroke-width':1.6});
dots(axH2,h2B3,h2B1,'#0000ff',3.2,'hodogram-b3-b1-points');
frame(axH2,[-6,-4,-2,0,2],[-6,-4,-2,0,2].map(fmt),hodoY,hodoY.map(fmt),{fs:15,xoff:22});

// ===== Second row =====
const axW=axes('walen-test-axes',117,662,454,461,[-35.7,47.3],[-36.5,47.3]);
dots(axW,walenGreenX,walenGreenY,'#008000',5,'walen-green-points');
dots(axW,walenRedX,walenRedY,'#ff0000',5,'walen-red-points');
dots(axW,walenBlueX,walenBlueY,'#0000ff',5,'walen-blue-points');
polyline(axW,[-35.7,47.3],[walenIntercept+walenSlope*-35.7,walenIntercept+walenSlope*47.3],'#000','walen-fit-line',{'stroke-dasharray':'8,5','stroke-width':1.8});
frame(axW,walenTicks,walenTicks.map(fmt),walenYTicks,walenYTicks.map(fmt),{fs:15,xoff:22});
const wb=mk('rect',{x:125,y:669,width:145,height:49,fill:'#fff',stroke:'#000','stroke-width':1.8},overlay);


const wt1=mk('text',{x:129,y:688,'font-size':17},overlay);
wt1.textContent='slope = -0.046';


const wt2=mk('text',{x:129,y:710,'font-size':17},overlay);
wt2.innerHTML='<tspan font-family="Liberation Serif, serif" font-style="italic">r</tspan> = -0.146';



const frY=[-5,-4,-3,-2,-1,0,1,2,3,4];
const axH3=axes('hodogram-bz-by-axes',673,662,454,461,[-1.25,7.75],[-5,4]);
polyline(axH3,h3Bz,h3By,'#0000ff','hodogram-bz-by-line',{'stroke-width':1.6});
dots(axH3,h3Bz,h3By,'#0000ff',3.2,'hodogram-bz-by-points');
frame(axH3,[0,2,4,6],['0','2','4','6'],frY,frY.map(fmt),{fs:15,xoff:22});
const axH4=axes('hodogram-bx-by-axes',1228,662,455,461,[-2.52,6.48],[-5,4]);
polyline(axH4,h4Bx,h4By,'#0000ff','hodogram-bx-by-line',{'stroke-width':1.6});
dots(axH4,h4Bx,h4By,'#0000ff',3.2,'hodogram-bx-by-points');
frame(axH4,[-2,0,2,4,6],[-2,0,2,4,6].map(fmt),frY,frY.map(fmt),{fs:15,xoff:22});

// ===== Time series =====
const L=117, W=1566, H=189;
function tsAxes(name,top,ylim){ return axes(name,L,top,W,H,[0,82],ylim); }
// GSE
const axG=tsAxes('magnetic-field-gse-axes',1305,[-4,6]);
polyline(axG,[0,82],[0,0],'#000','gse-zero-line',{'stroke-dasharray':'8,6','stroke-width':1.3});
polyline(axG,times(gseBx.length),gseBx,'#ff0000','gse-bx-line');
polyline(axG,times(gseBy.length),gseBy,'#008000','gse-by-line');
polyline(axG,times(gseBz.length),gseBz,'#0000ff','gse-bz-line');
frame(axG,timeTicks,timeLabels,[-4,-2,0,2,4,6],[-4,-2,0,2,4,6].map(fmt));
legend('gse-legend',1605,1312,71,72,[
  {lx1:1614,lx2:1636,y:1324,color:'#ff0000',tx:1652,label:'Bx'},
  {lx1:1614,lx2:1636,y:1347,color:'#008000',tx:1652,label:'By'},
  {lx1:1614,lx2:1636,y:1370,color:'#0000ff',tx:1652,label:'Bz'}],{fs:15});
// FR
const axF=tsAxes('magnetic-field-fr-axes',1589,[-6,6]);
polyline(axF,[0,82],[0,0],'#000','fr-zero-line',{'stroke-dasharray':'8,6','stroke-width':1.3});
polyline(axF,times(frBt.length),frBt,'#000','fr-btotal-line');
polyline(axF,times(frBx.length),frBx,'#ff0000','fr-bx-line');
polyline(axF,times(frBy.length),frBy,'#008000','fr-by-line');
polyline(axF,times(frBz.length),frBz,'#0000ff','fr-bz-line');
frame(axF,timeTicks,timeLabels,[-6,-4,-2,0,2,4,6],[-6,-4,-2,0,2,4,6].map(fmt));
legend('fr-legend',1600,1596,76,93,[
  {lx1:1610,lx2:1632,y:1609,color:'#ff0000',tx:1648,label:"Bx'"},
  {lx1:1610,lx2:1632,y:1631,color:'#008000',tx:1648,label:"By'"},
  {lx1:1610,lx2:1632,y:1653,color:'#0000ff',tx:1648,label:"Bz'"},
  {lx1:1610,lx2:1632,y:1675,color:'#000',tx:1648,label:'|B|'}],{fs:15});
// PAD heatmap
const axP=tsAxes('pitch-angle-axes',1872,[0,180]);
const nCols=82, nRows=padRows.length;
const cw=W/nCols, chh=H/nRows;
padRows.forEach((row,ri)=>{
  for(let ci=0;ci<Math.min(nCols,row.length);ci++){
    const ch=row[ci];
    if(!(ch in padCodes)) continue;
    const t=(padCodes[ch]+31)/5;
    const x0=axP.sx(ci), y0=axP.sy(180-ri*6);
    const c=mk('rect',{x:x0.toFixed(2),y:y0.toFixed(2),width:(cw+0.6).toFixed(2),height:(chh+0.6).toFixed(2),fill:jet(t)},axP.plot);
    
    
  }
});
frame(axP,timeTicks,timeLabels,[0,60,120,180],['0','60','120','180']);
// colorbar
const grad=mk('linearGradient',{id:'jetgrad',x1:0,y1:1,x2:0,y2:0},defs);
for(let i=0;i<=16;i++){ mk('stop',{offset:(i/16),'stop-color':jet(i/16)},grad); }
const cb=mk('rect',{x:1692,y:1872,width:9,height:189,fill:'url(#jetgrad)',stroke:'#000','stroke-width':1.5},overlay);


cbLabels.forEach((lab,i)=>{
  const y=1872+i*189/5;
  const tk=mk('line',{x1:1692,x2:1696,y1:y,y2:y,stroke:'#000'},overlay);
  
  
  const t=mk('text',{x:1711,y:y+8,'font-size':18},overlay);
  t.innerHTML='10<tspan dy="-8" font-size="12">'+lab.replace('-','\u2212')+'</tspan>';
  
  
});
// Velocity
const axV=tsAxes('solar-wind-velocity-axes',2156,[-500,100]);
polyline(axV,times(vx.length),vx,'#ff0000','vx-line');
polyline(axV,times(vy.length),vy,'#008000','vy-line');
polyline(axV,times(vz.length),vz,'#0000ff','vz-line');
const vT=[-500,-400,-300,-200,-100,0,100];
frame(axV,timeTicks,timeLabels,vT,vT.map(fmt));
legend('velocity-legend',1605,2162,71,72,[
  {lx1:1614,lx2:1636,y:2175,color:'#ff0000',tx:1652,label:'Vx'},
  {lx1:1614,lx2:1636,y:2198,color:'#008000',tx:1652,label:'Vy'},
  {lx1:1614,lx2:1636,y:2220,color:'#0000ff',tx:1652,label:'Vz'}],{fs:15});
// Beta
const axB=tsAxes('plasma-beta-axes',2439,[0,5]);
polyline(axB,times(betaP.length),betaP,'#0000ff','beta-p-line');
frame(axB,timeTicks,timeLabels,[0,1,2,3,4,5],['0','1','2','3','4','5']);
legend('beta-legend',1608,2446,68,31,[
  {lx1:1617,lx2:1639,y:2460,color:'#0000ff',tx:1656,html:'<tspan fill="#666" font-family="Liberation Serif, serif" font-style="italic">β</tspan><tspan fill="#666" font-family="Liberation Serif, serif" font-style="italic" font-size="10" dy="4">p</tspan>'}],{fs:15});
// Np
const axN=tsAxes('proton-density-axes',2723,[0,30]);
polyline(axN,times(np.length),np,'#0000ff','np-line');
const nT=[0,5,10,15,20,25,30];
frame(axN,timeTicks,timeLabels,nT,nT.map(String));
// Tp
const axT=tsAxes('proton-temperature-axes',3006,[0,0.5]);
polyline(axT,times(tp.length),tp,'#0000ff','tp-line');
const tT=[0,0.1,0.2,0.3,0.4,0.5];
frame(axT,timeTicks,timeLabels,tT,tT.map(v=>v.toFixed(1)));
legend('tp-legend',124,3012,71,28,[
  {lx1:134,lx2:156,y:3026,color:'#0000ff',tx:171,label:'Tp'}],{fs:15});
</script>
</body></html>
